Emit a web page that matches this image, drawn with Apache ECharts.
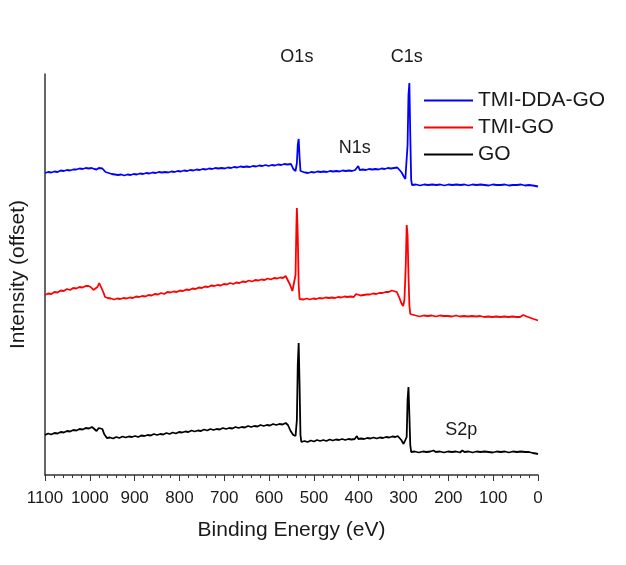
<!DOCTYPE html>
<html>
<head>
<meta charset="utf-8">
<script src="https://cdn.jsdelivr.net/npm/echarts@6/dist/echarts.min.js"></script>
<style>html,body{margin:0;padding:0;background:#fff;}#c{width:626px;height:565px;}</style>
</head>
<body>
<div id="c"></div>
<script>
// Binding energy ticks (eV)
const xTicks = [1100, 1000, 900, 800, 700, 600, 500, 400, 300, 200, 100, 0];
const seriesNames = ['TMI-DDA-GO', 'TMI-GO', 'GO'];

// [binding energy (eV), intensity (offset, arb.)]
const goData = [[1100,40],[1093,41.5],[1086,40.5],[1079,42],[1072,41.5],[1065,43],[1058,42.5],[1051,44],[1044,43.5],[1037,45],[1030,44.5],[1023,46],[1016,45.5],[1009,47],[1002,46.5],[995,48],[990,46],[985,44],[980,47],[976,49],[972,46],[968,41],[962,37],[955,37.5],[948,36.5],[941,38],[934,37],[927,38.5],[920,37.5],[913,38.5],[906,38],[899,39],[892,38],[885,39.5],[878,39],[871,40],[864,39.5],[857,41],[850,40],[843,41],[836,40.5],[829,42],[822,41],[815,42.5],[808,41.5],[801,43],[794,42.5],[787,43.5],[780,43],[773,44.5],[766,43.5],[759,44.5],[752,44],[745,45.5],[738,44.5],[731,46],[724,45],[717,46],[710,45.5],[703,47],[696,46],[689,47],[682,46.5],[675,48],[668,47],[661,48],[654,47.5],[647,49],[640,48],[633,49],[626,48.5],[619,50],[612,49],[605,50],[598,49.5],[591,51],[584,50],[577,51],[570,50.5],[563,52],[558,50],[552,44],[546,40],[541,39],[538,55],[536,110],[534,132],[532,90],[530,40],[528,33],[521,34],[514,33],[507,34.5],[500,33.5],[493,35],[486,34],[479,35],[472,34],[465,35.5],[458,34.5],[451,35.5],[444,35],[437,36],[430,35],[423,36],[416,35.5],[409,36],[404,39],[401,36],[395,36.5],[388,36],[381,37],[374,36.5],[367,37.5],[360,36.5],[353,37.5],[346,37],[339,38],[332,37.5],[325,38.5],[318,38],[313,39],[310,38],[305,35],[300,31],[296,29],[293,38],[291,75],[289,88],[287,60],[285,30],[283,23],[275,23.5],[266,22.5],[257,23.5],[248,23],[240,23.5],[233,24.5],[228,23],[219,23.5],[210,22.5],[201,23.5],[192,23],[183,23.5],[174,22.5],[169,24.5],[164,23],[155,23.5],[146,22.5],[137,23.5],[128,23],[119,23.5],[110,23],[101,22.5],[92,23.5],[83,23],[74,23.5],[65,22.5],[56,23.5],[47,23],[38,23.5],[29,23],[20,23],[12,22],[5,21.5],[0,21]];

const tmiGoData = [[1100,180],[1093,181.5],[1086,181],[1079,183],[1072,182.5],[1065,184.5],[1058,184],[1051,186],[1044,185],[1037,187],[1030,186.5],[1023,188],[1016,187.5],[1009,189],[1003,189],[998,188],[992,185],[988,184],[983,188],[979,192],[975,190],[970,183],[966,178],[960,177],[953,176.5],[946,175.5],[939,176.5],[932,176],[925,177],[918,176.5],[911,177.5],[904,177],[897,178.5],[890,178],[883,179],[876,178.5],[869,180],[862,179.5],[855,181],[848,180.5],[841,182],[834,181],[827,183],[820,182.5],[813,183.5],[806,183],[799,184.5],[792,184],[785,185.5],[778,185],[771,186.5],[764,186],[757,187.5],[750,187],[743,188.5],[736,188],[729,189.5],[722,189],[715,190],[708,189.5],[701,191],[694,190.5],[687,192],[680,191],[673,192.5],[666,192],[659,193.5],[652,193],[645,194.5],[638,193.5],[631,195],[624,194.5],[617,195.5],[610,195],[603,196.5],[596,195.5],[589,197],[582,196.5],[575,197.5],[569,197],[563,199],[559,197],[554,191],[548,184],[544,182],[541,200],[539,250],[538,267],[536,240],[534,190],[532,176],[530,175],[523,175.5],[516,176.5],[509,175.5],[502,176.5],[495,176],[488,177],[481,176.5],[474,177.5],[467,177],[460,177.5],[453,177],[446,178],[439,177.5],[432,178.5],[425,178],[418,178.5],[411,178],[406,181],[403,179],[396,179.5],[389,180],[382,180.5],[375,180.5],[368,181.5],[361,181],[354,182],[347,182],[340,183],[333,183],[326,184.5],[322,186],[315,183],[310,178],[305,172],[301,169],[298,175],[295,210],[293,250],[291,240],[289,200],[287,170],[285,161],[282,159],[273,159.5],[264,158.5],[255,159.5],[246,159],[237,159.5],[228,158.5],[219,159.5],[210,159],[201,159],[192,158.5],[183,159.5],[174,158.5],[165,159],[156,158.5],[147,159],[138,158.5],[129,159],[120,158],[111,158.5],[102,158],[93,158.5],[84,158],[75,158.5],[66,158],[57,158.5],[48,158],[40,158],[36,158],[33,160],[28,159],[22,158],[16,157],[10,156],[3,155],[0,154.5]];

const tmiDdaGoData = [[1100,302],[1093,303],[1086,302.5],[1079,303.5],[1072,303],[1065,304.5],[1058,304],[1051,305],[1044,304.5],[1037,305.5],[1030,305.5],[1023,306.5],[1016,306],[1009,307],[1002,306.5],[996,307],[990,306],[985,305.5],[980,307],[976,308],[972,306.5],[965,303],[958,302],[951,301],[944,300.5],[937,300],[930,300.5],[923,299.5],[916,300.5],[909,300],[902,301],[895,300.5],[888,301.5],[881,301],[874,302],[867,301.5],[860,302.5],[853,302],[846,303],[839,302.5],[832,303],[825,302.5],[818,303.5],[811,303],[804,304],[797,303.5],[790,304.5],[783,304],[776,305],[769,304.5],[762,305.5],[755,305],[748,306],[741,305.5],[734,306.5],[727,306],[720,307],[713,306.5],[706,307],[699,306.5],[692,307.5],[685,307],[678,308],[671,307.5],[664,308.5],[657,308],[650,308.5],[643,308],[636,309],[629,308.5],[622,309.5],[615,309],[608,310],[601,309],[594,310],[587,309.5],[580,310.5],[573,310],[566,311],[559,310.5],[551,311],[546,306],[541,304],[538,312],[536,330],[534,336],[532,318],[530,304],[527,302],[520,302.5],[513,302],[506,303],[499,302.5],[492,303.5],[485,303],[478,303.5],[471,303],[464,304],[457,303.5],[450,304],[443,303.5],[436,304.5],[429,304],[422,304.5],[415,304],[408,305],[404,305],[401,309],[398,305],[391,305.5],[384,305],[377,306],[370,305.5],[363,306],[356,305.5],[349,306.5],[342,306],[335,307],[328,306.5],[321,307],[314,307.5],[310,307],[305,303],[300,299],[296,296],[293,295],[291,330],[289,380],[287,392],[285,340],[283,295],[281,290],[272,290.5],[263,289.5],[254,290.5],[245,290],[236,290.5],[227,290],[218,290.5],[209,289.5],[200,290.5],[191,290],[182,290.5],[173,290],[164,290.5],[155,289.5],[146,290.5],[137,290],[128,290.5],[119,290],[110,289.5],[101,290.5],[92,290],[83,290],[74,290.5],[65,289.5],[56,290],[47,290],[38,290.5],[29,289.5],[20,290],[12,289.5],[5,289],[0,288.5]];

// Peak annotations: [energy, intensity, text]
const peakLabels = [[538,418,'O1s'],[293,418,'C1s'],[409,327,'N1s'],[171,45,'S2p']];

const FONT = '"Liberation Sans", Arial, sans-serif';
const TXT = '#1a1a1a';

const chart = echarts.init(document.getElementById('c'), null, {renderer: 'canvas'});
chart.setOption({
  animation: false,
  backgroundColor: '#fff',
  grid: {left: 43, right: 88, top: 74, bottom: 90},
  legend: {
    orient: 'vertical', left: 424, top: 90, padding: 0,
    itemWidth: 49, itemHeight: 2, itemGap: 6, icon: 'rect',
    data: seriesNames,
    textStyle: {fontFamily: FONT, fontSize: 21, color: TXT, lineHeight: 20}
  },
  xAxis: {
    type: 'value', min: 0, max: 1100, interval: 100, inverse: true,
    name: 'Binding Energy (eV)', nameLocation: 'middle', nameGap: 45,
    nameTextStyle: {fontFamily: FONT, fontSize: 21, color: TXT},
    axisLine: {show: true, onZero: false, lineStyle: {color: '#333', width: 1.5}},
    axisTick: {show: true, inside: false, length: 6, lineStyle: {color: '#333', width: 1}},
    minorTick: {show: true, splitNumber: 5, length: 3, lineStyle: {color: '#333', width: 1}},
    axisLabel: {margin: 15, fontFamily: FONT, fontSize: 17, color: TXT,
      formatter: v => xTicks.indexOf(v) >= 0 ? String(v) : ''},
    splitLine: {show: false}
  },
  yAxis: {
    type: 'value', min: 0, max: 401, position: 'left',
    name: 'Intensity (offset)', nameLocation: 'middle', nameGap: 16,
    nameTextStyle: {fontFamily: FONT, fontSize: 21, color: TXT},
    axisLine: {show: true, onZero: false, lineStyle: {color: '#333', width: 1.5}},
    axisTick: {show: false}, axisLabel: {show: false}, splitLine: {show: false}
  },
  series: [
    {name: seriesNames[0], type: 'line', data: tmiDdaGoData, symbol: 'none', color: '#0000ff', lineStyle: {width: 1.8, color: '#0000ff'}},
    {name: seriesNames[1], type: 'line', data: tmiGoData, symbol: 'none', color: '#ff0000', lineStyle: {width: 1.8, color: '#ff0000'}},
    {name: seriesNames[2], type: 'line', data: goData, symbol: 'none', color: '#000000', lineStyle: {width: 1.8, color: '#000000'}},
    {name: 'labels', type: 'scatter', clip: false, silent: true, symbolSize: 0,
      itemStyle: {color: '#000', opacity: 1},
      data: peakLabels.map(p => ({value: [p[0], p[1]], label: {formatter: p[2]}})),
      label: {show: true, position: 'inside', fontFamily: FONT, fontSize: 18, color: TXT, textBorderWidth: 0, opacity: 1}}
  ]
});
</script>
</body>
</html>
